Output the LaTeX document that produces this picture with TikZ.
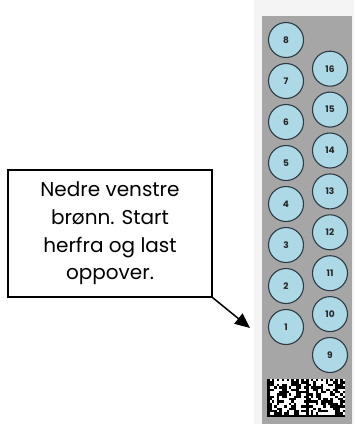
\documentclass[tikz,border=0pt]{standalone}
\usepackage{fontspec}
\setmainfont{Poppins}
\usetikzlibrary{arrows.meta}
\definecolor{panelgray}{HTML}{A6A6A6}
\definecolor{paleback}{HTML}{F4F4F4}
\definecolor{wellfill}{HTML}{ADD8E6}
\definecolor{welledge}{HTML}{2E3B44}
\tikzset{
  well/.style={circle, draw=welledge, fill=wellfill, line width=1.1pt,
    minimum size=35pt, inner sep=0pt, font=\fontsize{9}{10}\selectfont\bfseries,
    text=black!85},
  note/.style={draw=black, line width=1.2pt, fill=white, minimum width=204pt,
    minimum height=127pt, inner sep=0pt, align=center,
    font=\fontsize{20}{27.7}\selectfont},
  pointer/.style={line width=1.5pt, -{Triangle[length=15pt,width=13pt]}}
}
\begin{document}
\begin{tikzpicture}[x=1pt,y=-1pt]
\useasboundingbox (0,0) rectangle (354,424);
% plate holder background
\fill[paleback] (254,0) rectangle (354,424);
\fill[panelgray] (262,16) rectangle (352,424);
% left column of wells, 1 at the bottom
\foreach \n [evaluate=\n as \yy using 327-41*(\n-1)] in {1,...,8}
  \node[well] (w\n) at (286,\yy) {\n};
% right column of wells, 9 at the bottom
\foreach \n [evaluate=\n as \yy using 355-40.9*(\n-9)] in {9,...,16}
  \node[well] (w\n) at (330,\yy) {\n};
% two-region data matrix code
\fill[white] (267,379) rectangle (345,417);
\pgfmathsetseed{4711}
\foreach \c in {0,...,31}{
  \foreach \r in {0,...,15}{
    \pgfmathsetmacro{\xa}{267+\c*2.4375}
    \pgfmathsetmacro{\ya}{379+\r*2.375}
    \pgfmathsetmacro{\on}{
      (\c==0 || \c==16 || \r==15) ? 1 :
      ((\r==0 || \c==15 || \c==31) ? (mod(\c+\r,2)==0 ? 1 : 0) :
      (rnd<0.5 ? 1 : 0))}
    \ifdim\on pt>0.5pt
      \fill[black] (\xa,\ya) rectangle ++(2.5,2.45);
    \fi
  }
}
% instruction note and pointer
\node[note] (note) at (110,233.5)
  {Nedre venstre\\brønn. Start\\herfra og last\\oppover.};
\coordinate (tip) at (250,328);
\draw[pointer] (note.south east) -- (tip);
\end{tikzpicture}
\end{document}
